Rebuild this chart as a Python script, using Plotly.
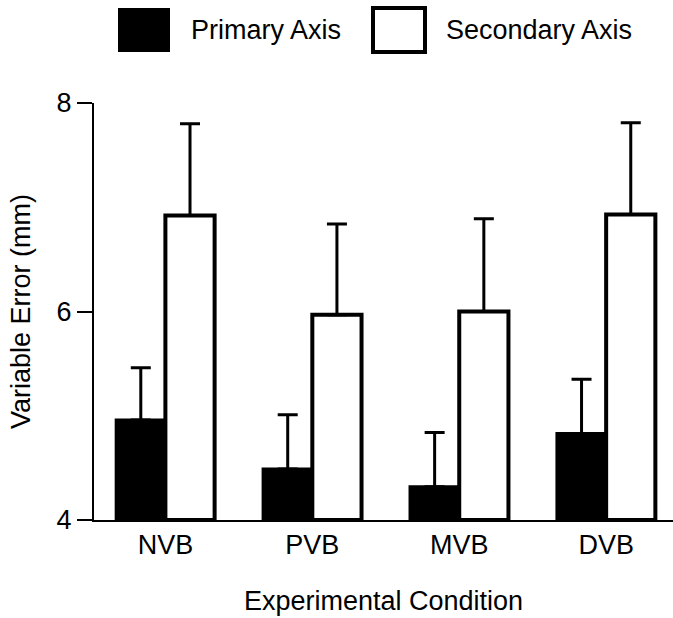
import plotly.graph_objects as go

categories = ["NVB", "PVB", "MVB", "DVB"]
primary = [4.96, 4.49, 4.32, 4.83]
primary_err = [0.50, 0.52, 0.52, 0.52]
secondary = [6.92, 5.97, 6.00, 6.93]
secondary_err = [0.88, 0.87, 0.89, 0.88]
series_names = ["Primary Axis", "Secondary Axis"]
y_ticks = [4, 6, 8]

W, H = 673, 618
ML, MR, MT, MB = 94, 0, 103, 98
PW, PH = W - ML - MR, H - MT - MB
FONT = "Liberation Sans, Arial, sans-serif"
FS = 27

xs = list(range(len(categories)))

fig = go.Figure()
fig.add_trace(go.Bar(
    x=xs, y=[v - 4 for v in primary], base=4, name=series_names[0],
    marker=dict(color="black", line=dict(color="black", width=3)),
    error_y=dict(type="data", symmetric=False, array=primary_err,
                 arrayminus=[0] * len(primary), color="black", thickness=3, width=10),
    showlegend=False,
))
fig.add_trace(go.Bar(
    x=xs, y=[v - 4 for v in secondary], base=4, name=series_names[1],
    marker=dict(color="white", line=dict(color="black", width=4)),
    error_y=dict(type="data", symmetric=False, array=secondary_err,
                 arrayminus=[0] * len(secondary), color="black", thickness=3, width=10),
    showlegend=False,
))

def px2paper(px, py):
    return (px - ML) / PW, (H - MB - py) / PH

shapes = []
annotations = []
# manual legend
for i, (name, fill) in enumerate(zip(series_names, ["black", "white"])):
    x0p = [118, 373][i]
    x0, y1 = px2paper(x0p, 8)
    x1, y0 = px2paper(x0p + 52, 52)
    shapes.append(dict(type="rect", xref="paper", yref="paper", x0=x0, x1=x1, y0=y0, y1=y1,
                       fillcolor=fill, line=dict(color="black", width=0 if fill == "black" else 4)))
    tx, ty = px2paper(x0p + 71, 30)
    annotations.append(dict(text=name, xref="paper", yref="paper", x=tx, y=ty,
                            xanchor="left", yanchor="middle", showarrow=False,
                            font=dict(family=FONT, size=FS, color="black")))

fig.update_layout(
    width=W, height=H,
    margin=dict(l=ML, r=MR, t=MT, b=MB, pad=0),
    paper_bgcolor="white", plot_bgcolor="white",
    barmode="group", bargap=0.33, bargroupgap=0,
    font=dict(family=FONT, size=FS, color="black"),
    shapes=shapes, annotations=annotations,
    xaxis=dict(
        tickmode="array", tickvals=xs, ticktext=categories,
        range=[-0.486, 3.455], showgrid=False, zeroline=False,
        showline=True, linecolor="black", linewidth=2, ticks="",
        tickfont=dict(family=FONT, size=FS),
        title=dict(text="Experimental Condition", font=dict(family=FONT, size=FS), standoff=32),
    ),
    yaxis=dict(
        range=[4, 8], tickvals=y_ticks, showgrid=False, zeroline=False,
        showline=True, linecolor="black", linewidth=2,
        ticks="outside", ticklen=15, tickwidth=2, tickcolor="black",
        tickfont=dict(family=FONT, size=FS),
        title=dict(text="Variable Error (mm)", font=dict(family=FONT, size=FS), standoff=18),
    ),
)

fig.write_html("out.html")
